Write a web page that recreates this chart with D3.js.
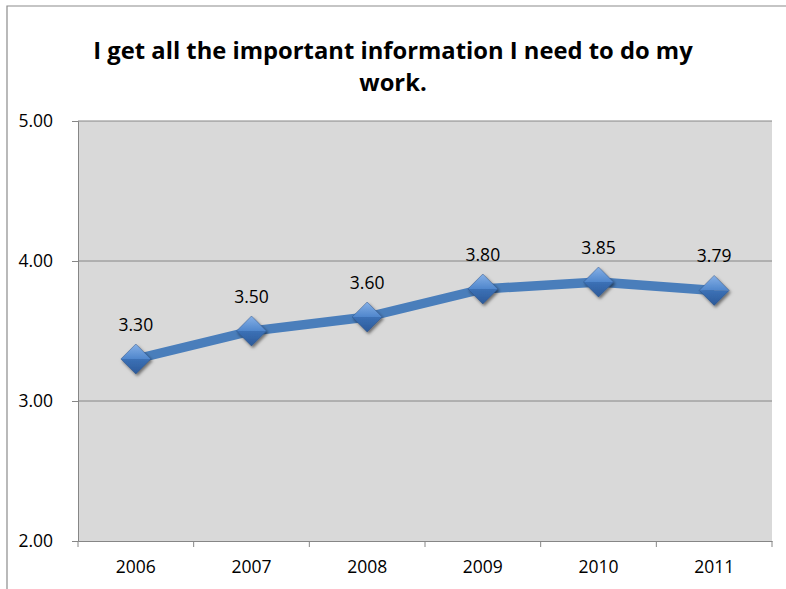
<!DOCTYPE html>
<html><head><meta charset="utf-8">
<script src="https://cdn.jsdelivr.net/npm/d3@7"></script>
<style>body{margin:0;background:#fff}svg{display:block}text{font-family:"Open Sans","Liberation Sans",sans-serif}</style>
</head><body><div id="c"></div>
<script>
const categories = ["2006","2007","2008","2009","2010","2011"];
const values = [3.30, 3.50, 3.60, 3.80, 3.85, 3.79];
const yTicks = [2, 3, 4, 5];
const titleLines = ["I get all the important information I need to do my", "work."];

const W = 786, H = 589;
const svg = d3.select("#c").append("svg").attr("width", W).attr("height", H);
const m = {l:78, r:14, t:121, b:48};
const x = d3.scaleBand().domain(categories).range([m.l, W - m.r]);
const y = d3.scaleLinear().domain([2,5]).range([H - m.b, m.t]);
const FS = 17.5;

// outer frame
svg.append("path").attr("d", `M7,${H} V6 H${W}`).attr("fill","none").attr("stroke","#8c8c8c").attr("stroke-width",1.2);

// defs
const defs = svg.append("defs");
const gT = defs.append("linearGradient").attr("id","gt").attr("x1",0).attr("y1",0).attr("x2",0).attr("y2",1);
gT.append("stop").attr("offset","0%").attr("stop-color","#86b0e6");
gT.append("stop").attr("offset","100%").attr("stop-color","#4f86cc");
const gB = defs.append("linearGradient").attr("id","gb").attr("x1",0).attr("y1",0).attr("x2",0).attr("y2",1);
gB.append("stop").attr("offset","0%").attr("stop-color","#3c71b6");
gB.append("stop").attr("offset","100%").attr("stop-color","#2c5a9a");
const f = defs.append("filter").attr("id","sh").attr("x","-50%").attr("y","-50%").attr("width","200%").attr("height","200%");
f.append("feDropShadow").attr("dx",1.5).attr("dy",2).attr("stdDeviation",1.5).attr("flood-color","#000").attr("flood-opacity",0.5);

// plot area
svg.append("rect").attr("x", m.l).attr("y", m.t).attr("width", W - m.r - m.l).attr("height", H - m.b - m.t).attr("fill","#d9d9d9");

// gridlines
svg.append("g").selectAll("line").data(yTicks.filter(d => d > 2)).join("line")
  .attr("x1", m.l).attr("x2", W - m.r).attr("y1", d => y(d)).attr("y2", d => y(d))
  .attr("stroke","#868686").attr("stroke-width",1);

// y axis
const ya = svg.append("g").attr("transform", `translate(${m.l},0)`)
  .call(d3.axisLeft(y).tickValues(yTicks).tickFormat(d3.format(".2f")).tickSize(6).tickPadding(19));
ya.select(".domain").attr("stroke","#868686");
ya.selectAll(".tick line").attr("stroke","#868686");
ya.selectAll("text").attr("font-size",FS).attr("fill","#000").attr("font-family","'Open Sans',sans-serif");

// x axis
const xa = svg.append("g").attr("transform", `translate(0,${H - m.b})`)
  .call(d3.axisBottom(x).tickSize(0).tickPadding(20));
xa.select(".domain").attr("stroke","#868686");
xa.selectAll("text").attr("font-size",FS).attr("fill","#000").attr("font-family","'Open Sans',sans-serif");
const bounds = categories.map(c => x(c)).concat([x(categories[categories.length-1]) + x.bandwidth()]);
xa.selectAll(".bt").data(bounds).join("line").attr("class","bt")
  .attr("x1", d => d).attr("x2", d => d).attr("y1", 0).attr("y2", 6).attr("stroke","#868686");

// line
const cx = d => x(d) + x.bandwidth()/2;
const pts = categories.map((c,i) => [cx(c), y(values[i])]);
svg.append("path").attr("d", d3.line()(pts)).attr("fill","none")
  .attr("stroke","#4a7ebb").attr("stroke-width",9.5).attr("stroke-linejoin","round");

// markers
const s = 15;
const mk = svg.append("g").selectAll("g").data(pts).join("g")
  .attr("transform", d => `translate(${d[0]},${d[1]})`).attr("filter","url(#sh)");
mk.append("path").attr("d", `M${-s},0 L0,${-s} L${s},0 Z`).attr("fill","url(#gt)");
mk.append("path").attr("d", `M${-s},0 L0,${s} L${s},0 Z`).attr("fill","url(#gb)");
mk.append("path").attr("d", `M${-s},0 L0,${-s} L${s},0 L0,${s} Z`).attr("fill","none").attr("stroke","#2a4f80").attr("stroke-width",0.8).attr("stroke-opacity",0.6);

// data labels
svg.append("g").selectAll("text").data(pts).join("text")
  .attr("x", d => d[0]).attr("y", d => d[1] - 28).attr("text-anchor","middle")
  .attr("font-size",FS).attr("fill","#000").text((d,i) => values[i].toFixed(2));

// title
const tt = svg.append("g").selectAll("text").data(titleLines).join("text")
  .attr("x", 393).attr("y", (d,i) => 59 + i*32).attr("text-anchor","middle")
  .attr("font-size",22).attr("font-weight","bold").attr("fill","#000").text(d => d);
const n0 = tt.nodes()[0];
const w0 = n0.getComputedTextLength();
tt.attr("font-size", 22 * 600 / w0);
</script></body></html>
